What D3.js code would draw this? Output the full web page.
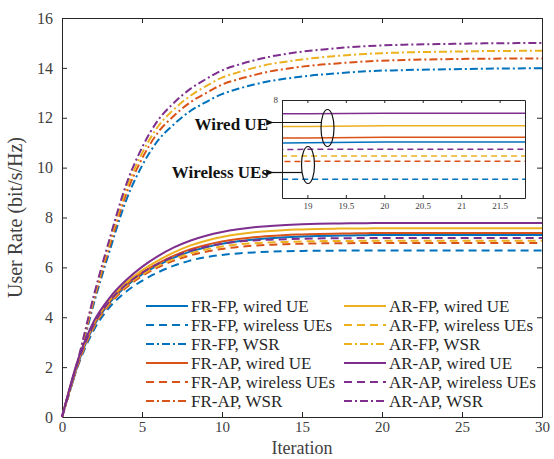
<!DOCTYPE html>
<html>
<head>
<meta charset="utf-8">
<script src="https://cdn.jsdelivr.net/npm/d3@7"></script>
<style>
  body { margin: 0; background: #fff; }
  svg { display: block; }
</style>
</head>
<body>
<script>
// iteration axis
var iterations = [0,1,2,3,4,5,6,7,8,9,10,11,12,13,14,15,16,17,18,19,20,21,22,23,24,25,26,27,28,29,30];

// FR-FP
var frfpWired = [0, 2.15, 3.66, 4.6, 5.24, 5.72, 6.08, 6.39, 6.63, 6.81, 6.95, 7.05, 7.12, 7.17, 7.21, 7.24, 7.26, 7.27, 7.28, 7.29, 7.3, 7.3, 7.3, 7.3, 7.3, 7.3, 7.3, 7.3, 7.3, 7.3, 7.3];
var frfpWireless = [0, 2.05, 3.5, 4.42, 5.02, 5.46, 5.8, 6.07, 6.27, 6.41, 6.5, 6.56, 6.6, 6.63, 6.65, 6.66, 6.67, 6.67, 6.68, 6.68, 6.68, 6.68, 6.68, 6.68, 6.68, 6.68, 6.68, 6.68, 6.68, 6.68, 6.68];
var frfpWsr = [0, 2.14, 4.57, 6.71, 8.67, 10.07, 11.09, 11.74, 12.26, 12.63, 12.95, 13.16, 13.33, 13.47, 13.57, 13.65, 13.72, 13.77, 13.82, 13.86, 13.89, 13.9, 13.92, 13.93, 13.94, 13.95, 13.96, 13.97, 13.97, 13.98, 13.98];
// FR-AP
var frapWired = [0, 2.2, 3.72, 4.66, 5.3, 5.79, 6.16, 6.47, 6.72, 6.9, 7.04, 7.14, 7.21, 7.26, 7.3, 7.32, 7.34, 7.35, 7.36, 7.37, 7.38, 7.38, 7.38, 7.38, 7.38, 7.38, 7.38, 7.38, 7.38, 7.38, 7.38];
var frapWireless = [0, 2.1, 3.6, 4.54, 5.18, 5.65, 6.0, 6.27, 6.48, 6.63, 6.74, 6.82, 6.87, 6.91, 6.93, 6.95, 6.96, 6.97, 6.97, 6.98, 6.98, 6.98, 6.98, 6.98, 6.98, 6.98, 6.98, 6.98, 6.98, 6.98, 6.98];
var frapWsr = [0, 2.2, 4.7, 6.9, 8.92, 10.36, 11.41, 12.08, 12.61, 12.99, 13.33, 13.54, 13.71, 13.86, 13.96, 14.05, 14.12, 14.17, 14.22, 14.26, 14.29, 14.31, 14.33, 14.34, 14.35, 14.36, 14.37, 14.37, 14.38, 14.38, 14.38];
// AR-FP
var arfpWired = [0, 2.25, 3.78, 4.72, 5.38, 5.88, 6.27, 6.6, 6.87, 7.07, 7.22, 7.33, 7.41, 7.46, 7.5, 7.52, 7.54, 7.55, 7.56, 7.56, 7.57, 7.57, 7.57, 7.57, 7.57, 7.57, 7.57, 7.57, 7.57, 7.57, 7.57];
var arfpWireless = [0, 2.15, 3.66, 4.6, 5.24, 5.71, 6.06, 6.34, 6.56, 6.72, 6.84, 6.92, 6.97, 7.0, 7.02, 7.04, 7.05, 7.06, 7.06, 7.07, 7.07, 7.07, 7.07, 7.07, 7.07, 7.07, 7.07, 7.07, 7.07, 7.07, 7.07];
var arfpWsr = [0, 2.25, 4.8, 7.05, 9.1, 10.57, 11.65, 12.34, 12.87, 13.27, 13.61, 13.82, 14.0, 14.15, 14.25, 14.34, 14.41, 14.47, 14.52, 14.56, 14.59, 14.61, 14.63, 14.64, 14.65, 14.66, 14.67, 14.68, 14.68, 14.69, 14.69];
// AR-AP
var arapWired = [0, 2.3, 3.85, 4.8, 5.48, 6.02, 6.45, 6.8, 7.07, 7.27, 7.42, 7.53, 7.61, 7.66, 7.7, 7.73, 7.75, 7.76, 7.77, 7.77, 7.78, 7.78, 7.78, 7.78, 7.78, 7.78, 7.78, 7.78, 7.78, 7.78, 7.78];
var arapWireless = [0, 2.2, 3.72, 4.66, 5.3, 5.78, 6.14, 6.43, 6.66, 6.83, 6.95, 7.03, 7.08, 7.11, 7.13, 7.15, 7.16, 7.17, 7.17, 7.18, 7.18, 7.18, 7.18, 7.18, 7.18, 7.18, 7.18, 7.18, 7.18, 7.18, 7.18];
var arapWsr = [0, 2.3, 4.9, 7.2, 9.3, 10.8, 11.9, 12.6, 13.15, 13.55, 13.9, 14.12, 14.3, 14.45, 14.56, 14.65, 14.72, 14.78, 14.83, 14.87, 14.9, 14.92, 14.94, 14.95, 14.96, 14.97, 14.98, 14.99, 14.99, 15.0, 15.0];

var legendLabels = ["FR-FP, wired UE", "FR-FP, wireless UEs", "FR-FP, WSR",
                    "FR-AP, wired UE", "FR-AP, wireless UEs", "FR-AP, WSR",
                    "AR-FP, wired UE", "AR-FP, wireless UEs", "AR-FP, WSR",
                    "AR-AP, wired UE", "AR-AP, wireless UEs", "AR-AP, WSR"];
var xTicks = [0, 5, 10, 15, 20, 25, 30];
var yTicks = [0, 2, 4, 6, 8, 10, 12, 14, 16];
var insetXTicks = [19, 19.5, 20, 20.5, 21, 21.5];
var insetYTicks = [8];

function drawChart(){

	var w = 554;
	var h = 459;
	var left = 62, right = 542, top = 18, bottom = 417;
	var font = "'Liberation Serif', 'Times New Roman', serif";
	var axisColor = "#262626";
	var fmt = d3.format("~g");

	var colors = ["#0072BD", "#D95319", "#EDB120", "#7E2F8E"];
	var dashes = [null, "8,5", "8,3,2,3"];

	var series = [
		{ v: frfpWired, c: 0, s: 0 }, { v: frfpWireless, c: 0, s: 1 }, { v: frfpWsr, c: 0, s: 2 },
		{ v: frapWired, c: 1, s: 0 }, { v: frapWireless, c: 1, s: 1 }, { v: frapWsr, c: 1, s: 2 },
		{ v: arfpWired, c: 2, s: 0 }, { v: arfpWireless, c: 2, s: 1 }, { v: arfpWsr, c: 2, s: 2 },
		{ v: arapWired, c: 3, s: 0 }, { v: arapWireless, c: 3, s: 1 }, { v: arapWsr, c: 3, s: 2 }
	];
	series.forEach(function(d, i){ d.label = legendLabels[i]; });

	var svg = d3.select("body")
		.append("svg")
		.attr("width", w)
		.attr("height", h)
		.style("font-family", font);

	var x = d3.scaleLinear().domain([0, 30]).range([left, right]);
	var y = d3.scaleLinear().domain([0, 16]).range([bottom, top]);

	// AXES (ticks inside, box on)
	function styleAxis(g){
		g.attr("font-family", font).attr("font-size", 16);
		g.select(".domain").attr("stroke", axisColor).attr("stroke-width", 1);
		g.selectAll(".tick line").attr("stroke", axisColor);
		g.selectAll(".tick text").attr("fill", "#404040");
	}

	svg.append("g")
		.attr("transform", "translate(0," + bottom + ")")
		.call(d3.axisBottom(x).tickValues(xTicks).tickSizeInner(-5).tickSizeOuter(0).tickPadding(4))
		.call(styleAxis)
		.attr("font-size", 15);
	svg.append("g")
		.attr("transform", "translate(0," + top + ")")
		.call(d3.axisTop(x).tickValues(xTicks).tickSizeInner(-5).tickSizeOuter(0).tickFormat(""))
		.call(styleAxis);
	svg.append("g")
		.attr("transform", "translate(" + left + ",0)")
		.call(d3.axisLeft(y).tickValues(yTicks).tickSizeInner(-5).tickSizeOuter(0).tickPadding(9))
		.call(styleAxis);
	svg.append("g")
		.attr("transform", "translate(" + right + ",0)")
		.call(d3.axisRight(y).tickValues(yTicks).tickSizeInner(-5).tickSizeOuter(0).tickFormat(""))
		.call(styleAxis);

	// AXIS TITLES
	svg.append("text")
		.attr("x", (left + right) / 2)
		.attr("y", 454)
		.attr("text-anchor", "middle")
		.attr("font-size", "18px")
		.attr("fill", "#404040")
		.text("Iteration");

	svg.append("text")
		.attr("transform", "translate(22," + ((top + bottom) / 2) + ") rotate(-90)")
		.attr("text-anchor", "middle")
		.attr("font-size", "20px")
		.attr("fill", "#404040")
		.text("User Rate (bit/s/Hz)");

	// CURVES
	var line = d3.line()
		.x(function(d, i){ return x(iterations[i]); })
		.y(function(d){ return y(d); })
		.curve(d3.curveMonotoneX);

	svg.append("g").selectAll("path")
		.data(series)
		.enter()
		.append("path")
		.attr("d", function(d){ return line(d.v); })
		.attr("fill", "none")
		.attr("stroke", function(d){ return colors[d.c]; })
		.attr("stroke-width", 2)
		.attr("stroke-dasharray", function(d){ return dashes[d.s]; });

	// LEGEND (two columns, no box)
	var legend = svg.append("g");
	var rowH = 19;
	var legItems = legend.selectAll("g")
		.data(series)
		.enter()
		.append("g")
		.attr("transform", function(d, i){
			var col = i < 6 ? 0 : 1;
			var row = i % 6;
			return "translate(" + (col === 0 ? 146 : 344) + "," + (306 + row * rowH) + ")";
		});
	legItems.append("line")
		.attr("x1", 0).attr("x2", 42)
		.attr("y1", 0).attr("y2", 0)
		.attr("stroke", function(d){ return colors[d.c]; })
		.attr("stroke-width", 2)
		.attr("stroke-dasharray", function(d){ return dashes[d.s]; });
	legItems.append("text")
		.attr("x", 45)
		.attr("y", 6)
		.attr("font-size", "17px")
		.attr("fill", "#262626")
		.text(function(d){ return d.label; });

	// INSET
	var ix = d3.scaleLinear().domain([18.67, 21.83]).range([282, 525]);
	var iy = d3.scaleLinear().domain([6.37, 8]).range([198, 100]);

	var inset = svg.append("g");
	inset.append("rect")
		.attr("x", 282).attr("y", 100)
		.attr("width", 243).attr("height", 98)
		.attr("fill", "#fff");

	svg.append("clipPath").attr("id", "insetClip")
		.append("rect")
		.attr("x", 282).attr("y", 100)
		.attr("width", 243).attr("height", 98);

	var iline = d3.line()
		.x(function(d, i){ return ix(iterations[i]); })
		.y(function(d){ return iy(d); });

	inset.append("g")
		.attr("clip-path", "url(#insetClip)")
		.selectAll("path")
		.data(series.filter(function(d){ return d.s !== 2; }))
		.enter()
		.append("path")
		.attr("d", function(d){ return iline(d.v); })
		.attr("fill", "none")
		.attr("stroke", function(d){ return colors[d.c]; })
		.attr("stroke-width", 1.5)
		.attr("stroke-dasharray", function(d){ return d.s === 1 ? "6,4" : null; });

	function styleInset(g){
		g.attr("font-family", font).attr("font-size", 9);
		g.select(".domain").attr("stroke", axisColor).attr("stroke-width", 1);
		g.selectAll(".tick line").attr("stroke", axisColor);
		g.selectAll(".tick text").attr("fill", "#404040");
	}
	inset.append("g")
		.attr("transform", "translate(0,198)")
		.call(d3.axisBottom(ix).tickValues(insetXTicks).tickFormat(fmt).tickSizeInner(-3).tickSizeOuter(0).tickPadding(5))
		.call(styleInset);
	inset.append("g")
		.attr("transform", "translate(0,100)")
		.call(d3.axisTop(ix).tickValues(insetXTicks).tickSizeInner(-3).tickSizeOuter(0).tickFormat(""))
		.call(styleInset);
	inset.append("g")
		.attr("transform", "translate(282,0)")
		.call(d3.axisLeft(iy).tickValues(insetYTicks).tickFormat(fmt).tickSizeInner(-3).tickSizeOuter(0).tickPadding(4))
		.call(styleInset);
	inset.append("g")
		.attr("transform", "translate(525,0)")
		.call(d3.axisRight(iy).tickValues(insetYTicks).tickSizeInner(-3).tickSizeOuter(0).tickFormat(""))
		.call(styleInset);

	// ANNOTATIONS
	svg.append("defs").append("marker")
		.attr("id", "arrow")
		.attr("viewBox", "0 0 10 10")
		.attr("refX", 2).attr("refY", 5)
		.attr("markerWidth", 6).attr("markerHeight", 6)
		.attr("orient", "auto")
		.append("path")
		.attr("d", "M10,1 L0,5 L10,9 Z")
		.attr("fill", "#111");

	var notes = [
		{ text: "Wired UE", cx: 327.5, cy: 128, ay: 122.5, ax0: 321, ax1: 272, ty: 130 },
		{ text: "Wireless UEs", cx: 308, cy: 165, ay: 172.5, ax0: 302, ax1: 272, ty: 178 }
	];
	notes.forEach(function(n){
		svg.append("ellipse")
			.attr("cx", n.cx).attr("cy", n.cy)
			.attr("rx", 6.5).attr("ry", 18.5)
			.attr("fill", "none")
			.attr("stroke", "#111")
			.attr("stroke-width", 1.2);
		svg.append("line")
			.attr("x1", n.ax0).attr("y1", n.ay)
			.attr("x2", n.ax1).attr("y2", n.ay)
			.attr("stroke", "#111")
			.attr("stroke-width", 1.2)
			.attr("marker-end", "url(#arrow)");
		svg.append("text")
			.attr("x", 268).attr("y", n.ty)
			.attr("text-anchor", "end")
			.attr("font-size", "17px")
			.attr("font-weight", "bold")
			.attr("fill", "#111")
			.text(n.text);
	});
}

drawChart();
</script>
</body>
</html>
